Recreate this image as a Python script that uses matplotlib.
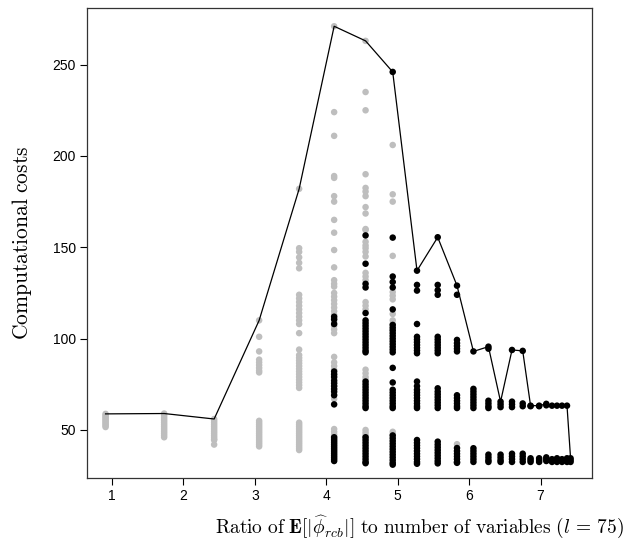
import matplotlib
matplotlib.use("Agg")
import matplotlib.pyplot as plt

plt.rcParams['mathtext.fontset'] = 'cm'
plt.rcParams['font.family'] = ['Liberation Sans', 'DejaVu Sans']

# column positions (ratio) and the costs observed at each
ratios = [0.91, 1.73, 2.43, 3.06, 3.62, 4.11, 4.55, 4.93, 5.27, 5.56, 5.83,
          6.06, 6.27, 6.44, 6.60, 6.75, 6.86, 6.98, 7.08, 7.16, 7.23, 7.30,
          7.37, 7.42]

gray_costs = [
    [58.8, 58, 57.2, 56.4, 55.6, 54.8, 54, 53.2, 52.4, 51.6],
    [59, 58, 57, 56, 55, 54, 53, 52, 51, 50, 49, 48, 47, 46],
    [56, 55, 54, 53, 52, 51, 50, 49, 48, 47, 46, 45, 44.5, 42],
    [110, 101, 93, 88.5, 87, 85.5, 84, 82.5, 81.5,
     55, 54, 53, 52, 51, 50, 49, 48, 47, 46, 45, 44, 43, 42, 41],
    [182, 149.5, 147.5, 144.5, 141.5, 138.5, 124, 122, 120, 118, 116, 114,
     112, 110, 108, 103, 94, 91, 89.5, 88, 86.5, 85, 83.5, 82, 80.5, 79,
     77.5, 76, 74.5, 73, 54, 53, 52, 51, 50, 49, 48, 47, 46, 45, 44, 43, 42,
     41, 40, 39],
    [271, 224, 211, 189, 188, 178, 175, 165, 158, 148.5, 139, 132, 130,
     128.5, 125, 123, 121, 119, 117, 115, 113, 111, 109, 107, 105, 103, 90,
     87, 85, 83, 80, 78, 76, 74, 72, 70, 67, 50.5, 49, 47.5, 46.5],
    [263, 235, 225, 190, 182.5, 180.5, 178, 172, 168.5, 160, 159.5, 153, 151,
     149.5, 147.5, 145, 136, 134, 132, 120, 118, 116, 83, 81, 79, 77.5, 50,
     48.5, 47, 46],
    [206, 179, 175, 145.3, 125.5, 123.5, 121.5, 113.5, 110, 108, 105, 49,
     47.5],
    [], [], [42.2], [], [], [], [], [], [], [], [], [], [], [], [], [],
]

black_costs = [
    [], [], [], [], [],
    [112, 110.5, 108, 82, 80.5, 79, 77, 75.5, 74, 72.5, 71, 69, 64, 46, 45,
     44, 43, 42, 41, 40, 39, 38, 37, 36, 35, 34, 33],
    [156.5, 141, 130, 128, 114, 110, 108.5, 107, 105.5, 104, 102.5, 101,
     99.5, 98, 96.5, 95, 93.5, 92.5, 76.5, 75, 73.5, 72, 70.5, 69, 67.5, 66,
     64.5, 63, 62, 46, 44.5, 43, 41.5, 40, 38.5, 37, 35.5, 34, 32.5, 31.8],
    [246, 155.3, 134, 131, 128, 116, 107.5, 106, 104.5, 103, 101.5, 100,
     98.5, 97, 95.5, 94, 92.5, 84, 76, 72, 70.5, 69, 67.5, 66, 64.5, 63, 62,
     47, 45.5, 44, 42.5, 41, 39.5, 38, 36.5, 35, 33.5, 32, 31],
    [137.2, 129.4, 126.3, 108, 101, 99.5, 98, 96.5, 95, 93.5, 92, 76.5, 74,
     72, 70.5, 69, 67.5, 66, 64.5, 63, 62, 44.5, 43, 41.5, 40, 38.5, 37,
     35.5, 34, 32.5, 31.5],
    [155.5, 129.4, 126.5, 124, 101, 99.5, 98, 96.5, 95, 93.5, 92, 72.8, 71,
     69.5, 68, 66.5, 65, 63.5, 62, 43.6, 42, 40.5, 39, 37.5, 36, 34.5, 33,
     31.7],
    [129, 124, 99.3, 97.5, 96, 94.5, 93, 69, 67.5, 66, 64.5, 63, 62, 40.1,
     38.5, 37, 35.5, 34, 32.5, 32],
    [93, 72.5, 71, 69.5, 68, 66.5, 65, 63.5, 62, 40, 38.5, 37, 35.5, 34,
     32.5],
    [95.6, 94.5, 66, 64.5, 63, 62, 36.5, 35, 33.5, 32.5],
    [65.5, 64, 62.5, 36.5, 35, 33.5, 32.5],
    [93.8, 65.5, 64, 62.5, 37, 35.5, 34, 32.5],
    [93.3, 64.5, 63, 37, 35.5, 34, 32.5],
    [63.3, 63, 34.5, 33.5, 32.5],
    [63.3, 63, 34.5, 33.5, 32.5],
    [64.3, 63.5, 35, 34, 33],
    [63.3, 34, 33, 32.5],
    [63.3, 34.5, 33.5, 32.5],
    [63.3, 34, 33, 32.5],
    [63.3, 34.5, 33.5, 32.5],
    [34.5, 33.5, 32.5],
]

xticks = [1, 2, 3, 4, 5, 6, 7]
yticks = [50, 100, 150, 200, 250]

fig = plt.figure(figsize=(6.27, 5.45), dpi=100)
ax = fig.add_axes([87/627, 1 - 478/545, (592-87)/627, (478-8)/545])

gx, gy, bx, by = [], [], [], []
for r, g, b in zip(ratios, gray_costs, black_costs):
    gx += [r]*len(g); gy += g
    bx += [r]*len(b); by += b

ax.scatter(gx, gy, s=22, c='#BEBEBE', edgecolors='none', zorder=2)
ax.scatter(bx, by, s=22, c='black', edgecolors='none', zorder=3)

line_y = [max(g + b) for g, b in zip(gray_costs, black_costs)]
ax.plot(ratios, line_y, color='black', lw=0.9, zorder=4)

ax.set_xlim(0.65, 7.72)
ax.set_ylim(23.7, 281)
ax.set_xticks(xticks)
ax.set_yticks(yticks)
ax.tick_params(direction='out', length=5, width=0.8, labelsize=10, pad=3)
for sp in ax.spines.values():
    sp.set_linewidth(0.9)
    sp.set_color('#333333')

fig.text(624/627, 1 - 527/545,
         r'$\mathrm{Ratio\ of\ }\mathbf{E}[|\widehat{\phi}_{rcb}|]\mathrm{\ to\ number\ of\ variables\ }(l\,=\,75)$',
         ha='right', va='center', fontsize=14)
fig.text(22/627, 1 - 243/545, r'$\mathrm{Computational\ costs}$',
         rotation=90, ha='center', va='center', fontsize=15.5)

fig.savefig('out.png', dpi=100)
